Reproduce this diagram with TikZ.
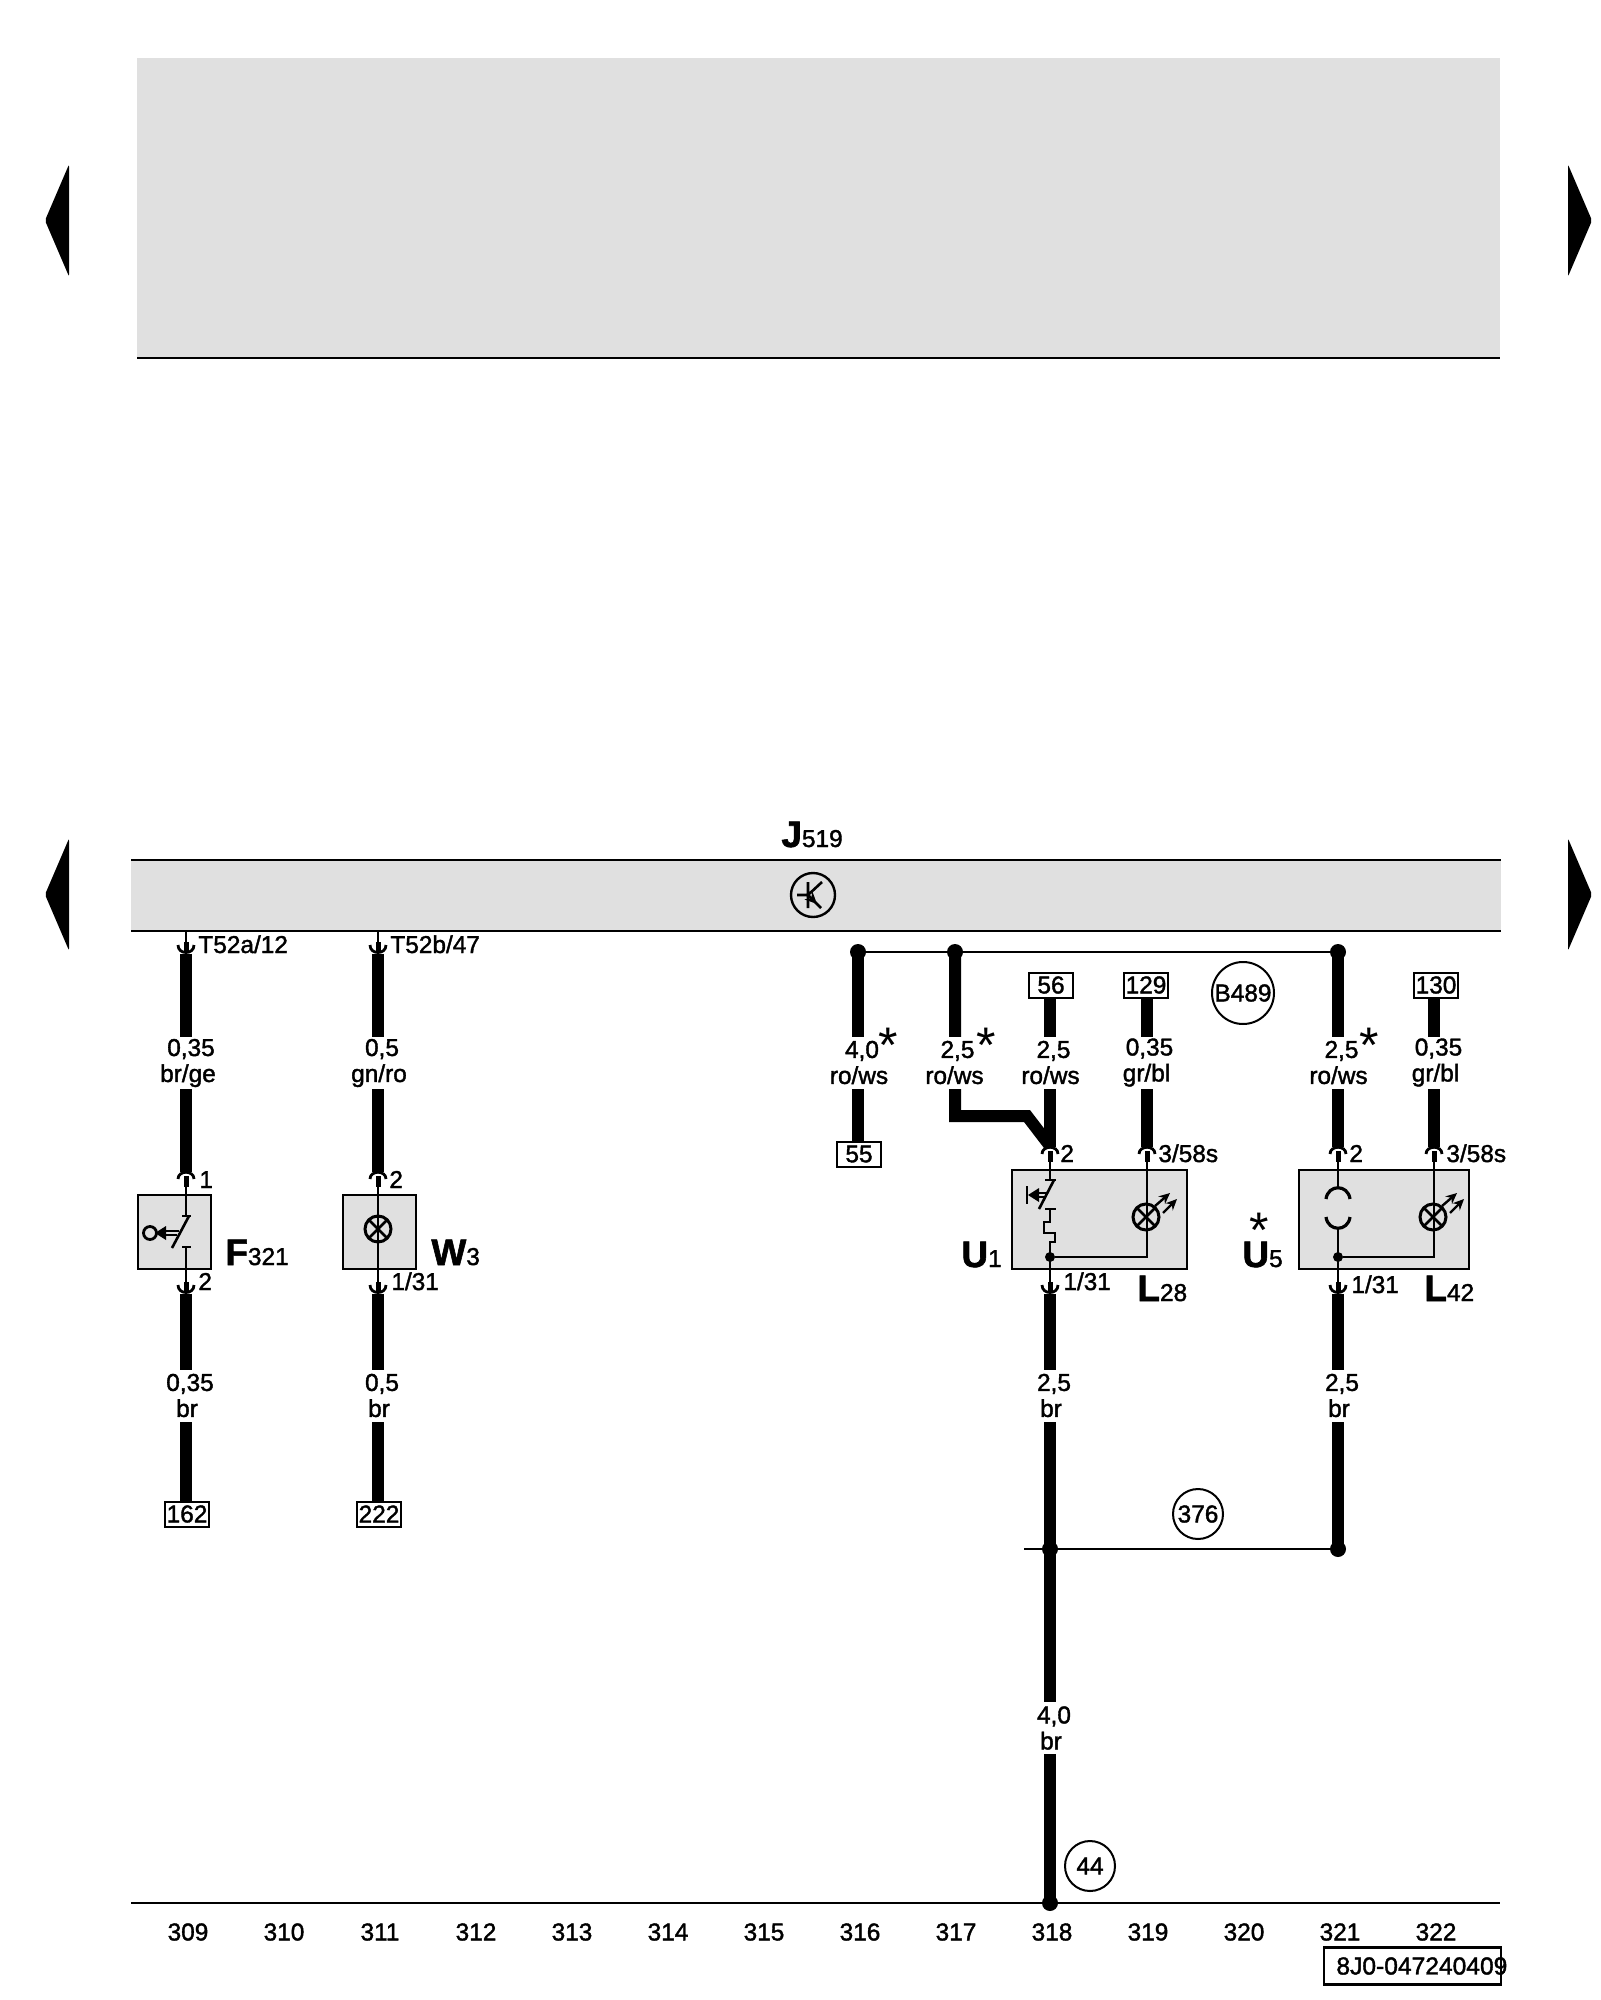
\documentclass[tikz,border=0pt]{standalone}
\usepackage{fontspec}
\setmainfont{Liberation Sans}
\newfontfamily\lab[FakeBold=1.6]{Liberation Sans}
\usetikzlibrary{arrows.meta}
\definecolor{panelgray}{HTML}{E0E0E0}
\tikzset{
  thinw/.style={line width=1.25pt,black},
  wirew/.style={line width=6pt,black},
  symb/.style={line width=1.3pt,black},
  band/.style={fill=panelgray,draw=none,inner sep=0,outer sep=0},
  devbox/.style={rectangle,draw=black,line width=1.1pt,fill=panelgray,inner sep=0,outer sep=0},
  wlab/.style={fill=white,inner sep=0,outer sep=0,minimum height=26pt,align=center,font=\lab\fontsize{12.2}{13}\selectfont},
  tbox/.style={rectangle,draw=black,line width=1pt,fill=white,inner sep=0,outer sep=0,minimum width=22pt,minimum height=12.5pt,font=\lab\fontsize{12.2}{13}\selectfont},
  cnum/.style={inner sep=0,anchor=base west,font=\lab\fontsize{12.2}{13}\selectfont},
  colnum/.style={inner sep=0,font=\lab\fontsize{12.2}{13}\selectfont},
  biglab/.style={inner sep=0,anchor=base west,font=\lab\fontsize{12.2}{13}\selectfont},
  ring/.style={circle,draw=black,line width=1pt,fill=white,inner sep=0,outer sep=0,font=\lab\fontsize{12.2}{13}\selectfont},
  star/.style={inner sep=0,outer sep=0,font=\fontsize{25}{25}\selectfont},
  dotn/.style={circle,fill=black,inner sep=0,outer sep=0,minimum size=8pt},
  conU/.pic={
    \draw[line width=1.4pt] (-8,-9) .. controls (-8,1) and (8,1) .. (8,-9);
    \fill (-2.5,-12) rectangle (2.5,-1);
  },
  conN/.pic={
    \draw[line width=1.4pt] (-8,7) .. controls (-8,-2) and (8,-2) .. (8,7);
    \fill (-2.5,4) rectangle (2.5,15);
  },
  lampsym/.pic={
    \draw[line width=1.5pt] (0,0) circle [radius=13];
    \draw[line width=1.3pt] (-9,-9) -- (9,9) (-9,9) -- (9,-9);
  },
  raysym/.pic={
    \draw[line width=1.2pt,-{Stealth[length=5.5pt,width=5pt]}] (9,-11) -- (24,-24);
    \draw[line width=1.2pt,-{Stealth[length=5.5pt,width=5pt]}] (17,-4) -- (31,-18);
  }
}
\newcommand{\Biglab}[2]{{\fontsize{18.5}{20}\selectfont\bfseries #1}{\lab\fontsize{12.2}{13}\selectfont #2}}
\newcommand{\dg}[1]{\hspace*{3pt}#1}
\begin{document}
\begin{tikzpicture}[x=0.5pt,y=-0.5pt]
\useasboundingbox (0,0) rectangle (1600,2000);

% top panel
\node[band,minimum width=681.5pt,minimum height=150pt] (panel) at (818.5,208) {};
\draw[thinw] (panel.south west) -- (panel.south east);

% navigation arrows
\foreach \n/\cy in {a/220.5,b/894.5}{
  \fill[rounded corners=1pt] (45,\cy) -- (69,\cy-56) -- (69,\cy+56) -- cycle;
  \fill[rounded corners=1pt] (1592,\cy) -- (1568,\cy-56) -- (1568,\cy+56) -- cycle;
}

% J519 band
\node[band,minimum width=685pt,minimum height=35.5pt] (Jband) at (816,895.5) {};
\draw[thinw] (Jband.north west) -- (Jband.north east);
\draw[thinw] (Jband.south west) -- (Jband.south east);
\node[biglab] (Jlab) at (781,847) {\Biglab{J}{519}};
\node[circle,draw=black,line width=1.2pt,minimum size=22pt,inner sep=0,outer sep=0] (tr) at (813,895) {};
\draw[symb] (797,895) -- (808,895) (808,882) -- (808,908) (808,895) -- (822,882);
\draw[symb,-{Stealth[length=6pt,width=5.5pt]}] (808,895) -- (817,904);
\draw[symb] (815,902) -- (821,908);

% device boxes
\node[devbox,minimum width=36.5pt,minimum height=37pt] (F) at (174.5,1232) {};
\node[devbox,minimum width=36.5pt,minimum height=37pt] (W) at (379.5,1232) {};
\node[devbox,minimum width=87.5pt,minimum height=49.5pt] (U1) at (1099.5,1219.5) {};
\node[devbox,minimum width=85pt,minimum height=49.5pt] (U5) at (1384,1219.5) {};

% terminal boxes
\node[tbox] (b162) at (187,1514) {162};
\node[tbox] (b222) at (379,1514) {222};
\node[tbox] (b55) at (859,1154) {55};
\node[tbox] (b56) at (1051,985) {56};
\node[tbox] (b129) at (1146,985) {129};
\node[tbox] (b130) at (1436,985) {130};

% column 1
\coordinate (a0) at (186,931);
\coordinate (a1) at (186,954);
\coordinate (a2) at (186,1172);
\coordinate (a3) at (186,1294);
\draw[thinw] (a0) -- (a1);
\draw[wirew] (a1) -- (a2);
\draw[wirew] (a3) -- (a3 |- b162.north);
\pic at (a1) {conU};
\pic at (a2) {conN};
\pic at (a3) {conU};
\draw[thinw] (186,1180) -- (186,1216) (182,1216) -- (191,1216);
\draw[thinw] (182,1247) -- (191,1247) (186,1247) -- (186,1285);
\draw[symb] (189,1216) -- (172,1248);
\draw[line width=1.4pt] (150,1233) circle [radius=6.5];
\fill (155,1233) -- (166,1226) -- (166,1240) -- cycle;
\draw[line width=1pt] (164,1231) -- (179,1231) (164,1235) -- (177,1235);

% column 2
\coordinate (b0) at (378,931);
\coordinate (b1) at (378,954);
\coordinate (b2) at (378,1172);
\coordinate (b3) at (378,1294);
\draw[thinw] (b0) -- (b1);
\draw[wirew] (b1) -- (b2);
\draw[wirew] (b3) -- (b3 |- b222.north);
\pic at (b1) {conU};
\pic at (b2) {conN};
\pic at (b3) {conU};
\draw[thinw] (378,1180) -- (378,1285);
\pic at (378,1229) {lampsym};

% bus
\coordinate (bus1) at (858,952);
\coordinate (bus2) at (955,952);
\coordinate (bus3) at (1338,952);
\draw[thinw] (bus1) -- (bus3);
\draw[wirew] (bus1) -- (bus1 |- b55.north);
\draw[wirew,line join=miter] (bus2) -- (955,1116) -- (1027,1116) -- (1050,1146);
\node[dotn] (d1) at (bus1) {};
\node[dotn] (d2) at (bus2) {};
\node[dotn] (d3) at (bus3) {};

% column 318
\coordinate (c1) at (1050,1147);
\coordinate (c2) at (1050,1294);
\coordinate (c3) at (1050,1549);
\coordinate (c4) at (1050,1903);
\draw[wirew] (c1 |- b56.south) -- (c1);
\draw[wirew] (c2) -- (c4);
\pic at (c1) {conN};
\pic at (c2) {conU};
\draw[thinw] (1050,1155) -- (1050,1180) (1045,1180) -- (1056,1180);
\draw[symb] (1054,1180) -- (1039,1209);
\draw[thinw] (1045,1209) -- (1056,1209);
\draw[thinw,line join=miter] (1050,1209) -- (1050,1222) -- (1044,1222) -- (1044,1233) -- (1055,1233) -- (1055,1242) -- (1050,1242) -- (1050,1285);
\draw[line width=1.4pt] (1027,1186) -- (1027,1204);
\fill (1028,1195) -- (1039,1188) -- (1039,1202) -- cycle;
\draw[line width=1pt] (1036,1193) -- (1047,1193) (1036,1197) -- (1045,1197);
\node[circle,fill=black,inner sep=0,outer sep=0,minimum size=5pt] (n1) at (1050,1257) {};

% column 319
\coordinate (e1) at (1147,1147);
\draw[wirew] (e1 |- b129.south) -- (e1);
\pic at (e1) {conN};
\draw[thinw,line join=miter] (1147,1155) -- (1147,1257) -- (n1);
\pic at (1146,1217) {lampsym};
\pic at (1146,1217) {raysym};

% column 321
\coordinate (f1) at (1338,1147);
\coordinate (f2) at (1338,1294);
\coordinate (f3) at (1338,1549);
\draw[wirew] (bus3) -- (f1);
\draw[wirew] (f2) -- (f3);
\pic at (f1) {conN};
\pic at (f2) {conU};
\draw[thinw] (1338,1155) -- (1338,1188) (1338,1229) -- (1338,1285);
\draw[line width=1.6pt] (1326,1199) .. controls (1328,1184) and (1348,1184) .. (1350,1199);
\draw[line width=1.6pt] (1326,1217) .. controls (1328,1232) and (1348,1232) .. (1350,1217);
\node[circle,fill=black,inner sep=0,outer sep=0,minimum size=5pt] (n2) at (1338,1257) {};

% column 322
\coordinate (g1) at (1434,1147);
\draw[wirew] (g1 |- b130.south) -- (g1);
\pic at (g1) {conN};
\draw[thinw,line join=miter] (1434,1155) -- (1434,1257) -- (n2);
\pic at (1433,1217) {lampsym};
\pic at (1433,1217) {raysym};

% junction line 376
\coordinate (h0) at (1024,1549);
\draw[thinw] (h0) -- (f3);
\node[dotn] (d4) at (c3) {};
\node[dotn] (d5) at (f3) {};

% ground line
\coordinate (gl0) at (131,1903);
\coordinate (gl1) at (1500,1903);
\draw[thinw] (gl0) -- (gl1);
\node[dotn] (d6) at (c4) {};

% wire labels
\node[wlab] (l1) at (188,1063) {\dg{0,35}\\br/ge};
\node[wlab] (l2) at (379,1063) {\dg{0,5}\\gn/ro};
\node[wlab] (l3) at (187,1395.5) {\dg{0,35}\\br};
\node[wlab] (l4) at (379,1395.5) {\dg{0,5}\\br};
\node[wlab] (l5) at (859,1062.5) {\dg{4,0}\\ro/ws};
\node[wlab] (l6) at (954.5,1062.5) {\dg{2,5}\\ro/ws};
\node[wlab] (l7) at (1050.5,1062.5) {\dg{2,5}\\ro/ws};
\node[wlab] (l8) at (1146.5,1062.5) {\dg{0,35}\\gr/bl};
\node[wlab] (l9) at (1338.5,1062.5) {\dg{2,5}\\ro/ws};
\node[wlab] (l10) at (1435.5,1062.5) {\dg{0,35}\\gr/bl};
\node[wlab] (l11) at (1051,1395.5) {\dg{2,5}\\br};
\node[wlab] (l12) at (1339,1395.5) {\dg{2,5}\\br};
\node[wlab] (l13) at (1051,1728) {\dg{4,0}\\br};
\node[star] (s1) at (888,1045) {*};
\node[star] (s2) at (986,1045) {*};
\node[star] (s3) at (1369,1045) {*};
\node[star] (s4) at (1259,1230) {*};

% connector numbers
\node[cnum] (t1) at (198,953) {T52a/12};
\node[cnum] (t2) at (390,953) {T52b/47};
\node[cnum] (t3) at (199,1188) {1};
\node[cnum] (t4) at (389,1188) {2};
\node[cnum] (t5) at (198,1290) {2};
\node[cnum] (t6) at (391,1290) {1/31};
\node[cnum] (t7) at (1060,1162) {2};
\node[cnum] (t8) at (1158,1162) {3/58s};
\node[cnum] (t9) at (1063,1290) {1/31};
\node[cnum] (t10) at (1349,1162) {2};
\node[cnum] (t11) at (1446,1162) {3/58s};
\node[cnum] (t12) at (1351,1293) {1/31};

% component names
\node[biglab] (nF) at (225,1265) {\Biglab{F}{321}};
\node[biglab] (nW) at (431,1265) {\Biglab{W}{3}};
\node[biglab] (nU1) at (961,1267) {\Biglab{U}{1}};
\node[biglab] (nL28) at (1137,1301) {\Biglab{L}{28}};
\node[biglab] (nU5) at (1242,1267) {\Biglab{U}{5}};
\node[biglab] (nL42) at (1424,1301) {\Biglab{L}{42}};

% rings
\node[ring,minimum size=31pt] (r1) at (1243,993) {B489};
\node[ring,minimum size=25pt] (r2) at (1198,1514) {376};
\node[ring,minimum size=25pt] (r3) at (1090,1866) {44};

% column numbers
\foreach \i [count=\k from 0] in {309,...,322}{
  \node[colnum] (col\i) at (188+96*\k,1932) {\i};
}

% drawing number
\node[draw=black,line width=1.1pt,minimum width=88.5pt,minimum height=18.5pt,inner sep=0,outer sep=0] (dn) at (1412.5,1966) {};
\node[inner sep=0,anchor=west,font=\lab\fontsize{12.3}{13}\selectfont] (dntext) at (1336,1966) {8J0-047240409};
\end{tikzpicture}
\end{document}
